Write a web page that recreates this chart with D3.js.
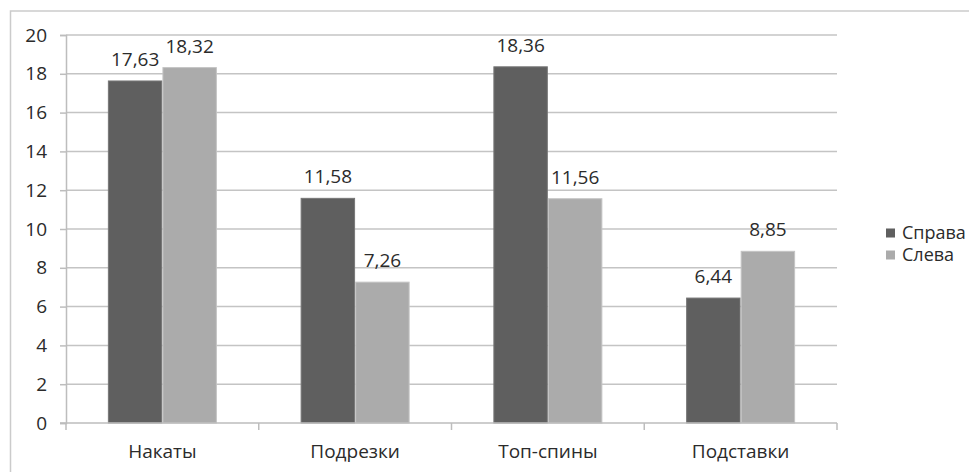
<!DOCTYPE html>
<html>
<head>
<meta charset="utf-8">
<script src="https://cdn.jsdelivr.net/npm/d3@7"></script>
<style>
  html, body { margin: 0; padding: 0; background: #fff; }
  svg { display: block; }
  text { font-family: "Open Sans", "Noto Sans", sans-serif; fill: #2b2b2b; }
</style>
</head>
<body>
<svg id="chart" width="969" height="472"></svg>
<script>
// Technique categories and the two sides
const categories = ["Накаты", "Подрезки", "Топ-спины", "Подставки"];
const seriesNames = ["Справа", "Слева"];
const rightValues = [17.63, 11.58, 18.36, 6.44];
const leftValues = [18.32, 7.26, 11.56, 8.85];
const yTicks = [0, 2, 4, 6, 8, 10, 12, 14, 16, 18, 20];
const seriesColors = ["#5f5f5f", "#ababab"];

const svg = d3.select("#chart");
const plot = { left: 66, right: 837, top: 35, bottom: 423 };
const fontSize = 19;

// outer frame of the chart area
svg.append("rect")
  .attr("x", 10.5).attr("y", 11)
  .attr("width", 980).attr("height", 480)
  .attr("fill", "none").attr("stroke", "#cbcbcb").attr("stroke-width", 1.5);

const y = d3.scaleLinear().domain([0, 20]).range([plot.bottom, plot.top]);
const x0 = d3.scaleBand().domain(categories).range([plot.left, plot.right]).padding(0);
const bw = x0.bandwidth();
const x1 = d3.scaleBand().domain(seriesNames)
  .range([bw / 2 - 54, bw / 2 + 54]).paddingInner(0.02);

// horizontal gridlines
svg.append("g").selectAll("line").data(yTicks.filter(d => d > 0)).join("line")
  .attr("x1", plot.left).attr("x2", plot.right)
  .attr("y1", d => y(d)).attr("y2", d => y(d))
  .attr("stroke", "#c4c4c4").attr("stroke-width", 1.5);

// y axis
const yAxis = svg.append("g")
  .attr("transform", `translate(${plot.left},0)`)
  .call(d3.axisLeft(y).tickValues(yTicks).tickSize(6).tickPadding(13).tickFormat(d3.format("d")));
yAxis.select(".domain").attr("stroke", "#bdbdbd").attr("stroke-width", 1.5);
yAxis.selectAll(".tick line").attr("stroke", "#bdbdbd").attr("stroke-width", 1.5);
yAxis.selectAll(".tick text").attr("font-size", fontSize).style("font-family", '"Open Sans", sans-serif').attr("fill", "#2b2b2b");

// data table in long form
const rows = categories.map((c, i) => ({ cat: c, values: [rightValues[i], leftValues[i]] }));

const groups = svg.append("g").selectAll("g").data(rows).join("g")
  .attr("transform", d => `translate(${x0(d.cat)},0)`);

groups.selectAll("rect").data(d => d.values.map((v, k) => ({ name: seriesNames[k], v, k }))).join("rect")
  .attr("x", d => x1(d.name))
  .attr("width", x1.bandwidth())
  .attr("y", d => y(d.v))
  .attr("height", d => y(0) - y(d.v))
  .attr("fill", d => seriesColors[d.k])
  .attr("stroke", d => d.k === 0 ? "#777" : "#c4c4c4")
  .attr("stroke-width", 1);

// value labels
groups.selectAll("text.val").data(d => d.values.map((v, k) => ({ name: seriesNames[k], v, k }))).join("text")
  .attr("class", "val")
  .attr("x", d => x1(d.name) + x1.bandwidth() / 2)
  .attr("y", d => y(d.v) - 15)
  .attr("text-anchor", "middle")
  .attr("font-size", fontSize)
  .text(d => d3.format(".2f")(d.v).replace(".", ","));

// x axis
const xAxis = svg.append("g")
  .attr("transform", `translate(0,${plot.bottom})`);
xAxis.append("line")
  .attr("x1", plot.left - 6).attr("x2", plot.right)
  .attr("stroke", "#bdbdbd").attr("stroke-width", 1.5);
const boundaries = categories.map(c => x0(c)).concat([plot.right]);
xAxis.selectAll("line.tk").data(boundaries).join("line")
  .attr("class", "tk")
  .attr("x1", d => d).attr("x2", d => d)
  .attr("y1", 0).attr("y2", 7)
  .attr("stroke", "#bdbdbd").attr("stroke-width", 1.5);
xAxis.selectAll("text").data(categories).join("text")
  .attr("x", d => x0(d) + bw / 2)
  .attr("y", 35)
  .attr("text-anchor", "middle")
  .attr("font-size", fontSize)
  .text(d => d);

// legend
const legend = svg.append("g").attr("transform", "translate(886,233)");
const li = legend.selectAll("g").data(seriesNames).join("g")
  .attr("transform", (d, i) => `translate(0,${i * 22})`);
li.append("rect")
  .attr("x", 0).attr("y", -4.5).attr("width", 9).attr("height", 9)
  .attr("fill", (d, i) => seriesColors[i]);
li.append("text")
  .attr("x", 16).attr("y", 0).attr("dy", "0.35em")
  .attr("font-size", 18)
  .text(d => d);
</script>
</body>
</html>
